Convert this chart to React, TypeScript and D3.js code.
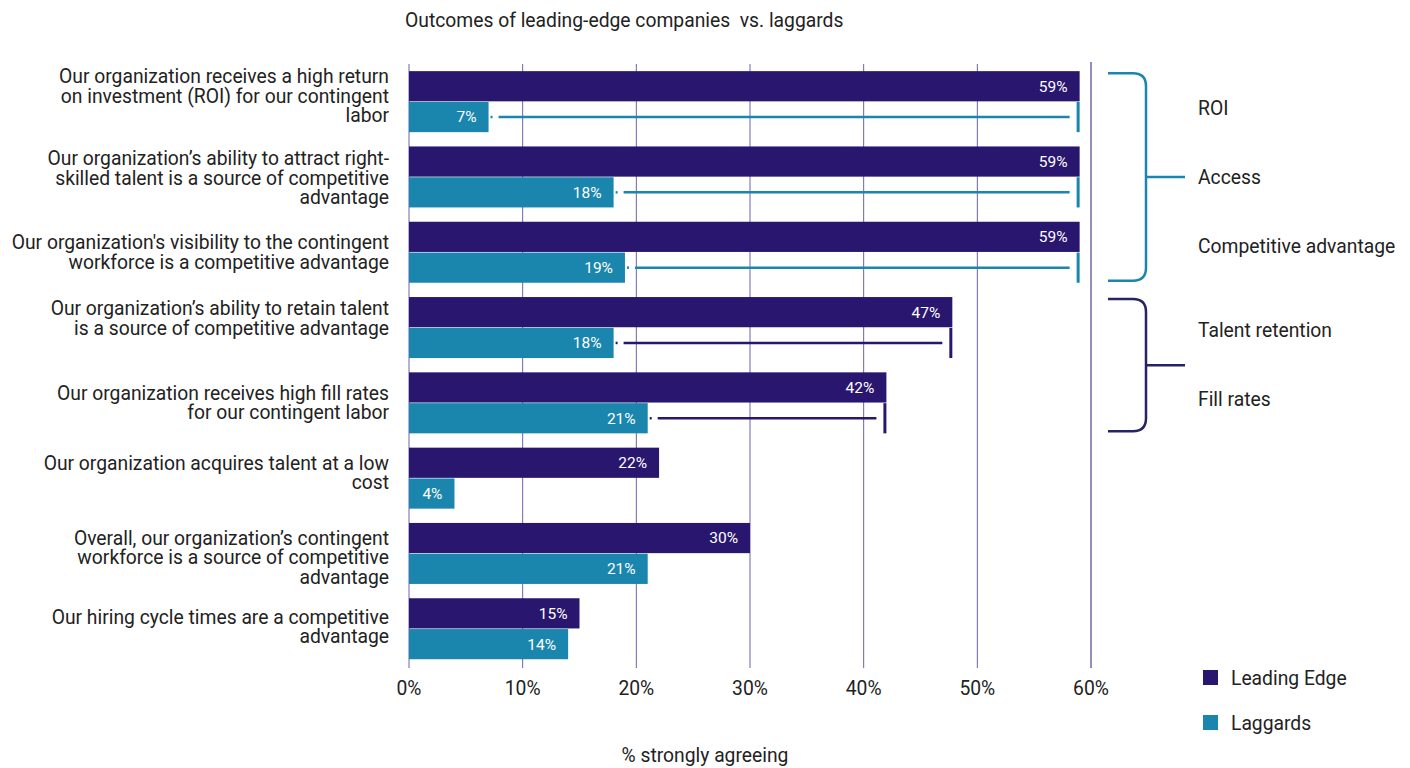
import React from "react";
import * as d3 from "d3";

const categories: string[][] = [
  ["Our organization receives a high return", "on investment (ROI) for our contingent", "labor"],
  ["Our organization’s ability to attract right-", "skilled talent is a source of competitive", "advantage"],
  ["Our organization's visibility to the contingent", "workforce is a competitive advantage"],
  ["Our organization’s ability to retain talent", "is a source of competitive advantage"],
  ["Our organization receives high fill rates", "for our contingent labor"],
  ["Our organization acquires talent at a low", "cost"],
  ["Overall, our organization’s contingent", "workforce is a source of competitive", "advantage"],
  ["Our hiring cycle times are a competitive", "advantage"],
];
const leadingEdge = [59, 59, 59, 47.8, 42, 22, 30, 15];
const leadingLabels = ["59%", "59%", "59%", "47%", "42%", "22%", "30%", "15%"];
const laggards = [7, 18, 19, 18, 21, 4, 21, 14];
const laggardLabels = ["7%", "18%", "19%", "18%", "21%", "4%", "21%", "14%"];
const xTicks = [0, 10, 20, 30, 40, 50, 60];
const seriesNames = ["Leading Edge", "Laggards"];
const connectorGroups = [0, 1, 2, 3, 4];
const connectorColorKeys = ["teal", "teal", "teal", "dark", "dark"];
const brackets = [
  { from: 0, to: 2, key: "teal", labels: ["ROI", "Access", "Competitive advantage"] },
  { from: 3, to: 4, key: "dark", labels: ["Talent retention", "Fill rates"] },
];

// layout tweak: vertical nudge of each category label block (px)
const LABEL_NUDGE = [-5.5, 1, 0, -9.5, 0, -5.5, 4, -2];

const DARK = "#29166f";
const TEAL = "#1b86ad";
const BRACKET_DARK = "#272463";
const FONT = "Roboto, 'Noto Sans', sans-serif";
const FS = 19.3;
const LH = 19.5;

export default function App() {
  const W = 1410, H = 768;
  const x = d3.scaleLinear().domain([0, 60]).range([409, 1091]);
  const ids = categories.map((_, i) => String(i));
  const y = d3.scaleBand<string>().domain(ids).range([64, 666.4]).paddingInner(0.19).paddingOuter(0.095);
  const sub = d3.scaleBand<string>().domain(["lead", "lag"]).range([0, y.bandwidth()]).paddingInner(0.02);
  const bh = sub.bandwidth();
  const colorOf = (k: string) => (k === "teal" ? TEAL : DARK);

  return (
    <svg width={W} height={H} style={{ position: "absolute", left: 0, top: 0, fontFamily: FONT }}>
      <rect width={W} height={H} fill="#fff" />
      <text x={405} y={20} dy="0.35em" fontSize={FS} fill="#222" style={{ whiteSpace: "pre" }}>{"Outcomes of leading-edge companies  vs. laggards"}</text>

      {xTicks.map((t) => (
        <line key={t} x1={x(t)} x2={x(t)} y1={t === 60 ? 62 : 64} y2={668}
          stroke={t === 60 ? "#2b1d78" : "#6c62ad"} strokeWidth={1} />
      ))}

      {ids.map((id, i) => {
        const y0 = y(id)!;
        const yl = y0 + sub("lead")!;
        const yg = y0 + sub("lag")!;
        return (
          <g key={id}>
            <rect x={x(0)} y={yl} width={x(leadingEdge[i]) - x(0)} height={bh} fill={DARK} />
            <rect x={x(0)} y={yg} width={x(laggards[i]) - x(0)} height={bh} fill={TEAL} />
            <text x={x(leadingEdge[i]) - 12} y={yl + bh / 2} dy="0.35em" textAnchor="end" fontSize={15.5} fill="#fff">{leadingLabels[i]}</text>
            <text x={x(laggards[i]) - 12} y={yg + bh / 2} dy="0.35em" textAnchor="end" fontSize={15.5} fill="#fff">{laggardLabels[i]}</text>
            {categories[i].map((line, j) => {
              const n = categories[i].length;
              const cy = y0 + y.bandwidth() / 2 + LABEL_NUDGE[i] + (j - (n - 1) / 2) * LH;
              return (
                <text key={j} x={389} y={cy} dy="0.35em" textAnchor="end" fontSize={FS} fill="#222">{line}</text>
              );
            })}
          </g>
        );
      })}

      {connectorGroups.map((gi, k) => {
        const id = ids[gi];
        const y0 = y(id)!;
        const yg = y0 + sub("lag")! + bh / 2;
        const c = colorOf(connectorColorKeys[k]);
        const xl = x(laggards[gi]);
        const xe = x(leadingEdge[gi]);
        return (
          <g key={"c" + gi}>
            <line x1={xl + 2} x2={xl + 4} y1={yg} y2={yg} stroke={c} strokeWidth={2.5} />
            <line x1={xl + 10} x2={xe - 10} y1={yg} y2={yg} stroke={c} strokeWidth={2.5} />
            <line x1={xe - 1.5} x2={xe - 1.5} y1={y0 + sub("lag")!} y2={y0 + sub("lag")! + bh} stroke={c} strokeWidth={3} />
          </g>
        );
      })}

      {brackets.map((b, bi) => {
        const top = y(ids[b.from])! + 2;
        const bot = y(ids[b.to])! + y.bandwidth() - 2;
        const xs = 1108, xv = 1146, r = 13;
        const mid = (top + bot) / 2;
        const c = b.key === "teal" ? TEAL : BRACKET_DARK;
        const path = `M${xs},${top} H${xv - r} Q${xv},${top} ${xv},${top + r} V${bot - r} Q${xv},${bot} ${xv - r},${bot} H${xs}`;
        const n = b.labels.length;
        return (
          <g key={"b" + bi}>
            <path d={path} fill="none" stroke={c} strokeWidth={2.5} />
            <line x1={xv} x2={1185} y1={mid} y2={mid} stroke={c} strokeWidth={2.5} />
            {b.labels.map((l, j) => (
              <text key={l} x={1198} y={mid + (j - (n - 1) / 2) * 69} dy="0.35em" fontSize={FS} fill="#222">{l}</text>
            ))}
          </g>
        );
      })}

      {xTicks.map((t) => (
        <text key={"t" + t} x={x(t)} y={688} dy="0.35em" textAnchor="middle" fontSize={FS} fill="#222">{t}%</text>
      ))}
      <text x={705} y={755} dy="0.35em" textAnchor="middle" fontSize={FS} fill="#222">% strongly agreeing</text>

      {seriesNames.map((s, i) => (
        <g key={s}>
          <rect x={1203} y={670 + i * 45} width={15} height={15} fill={i === 0 ? DARK : TEAL} />
          <text x={1231} y={678 + i * 45} dy="0.35em" fontSize={FS} fill="#222">{s}</text>
        </g>
      ))}
    </svg>
  );
}
